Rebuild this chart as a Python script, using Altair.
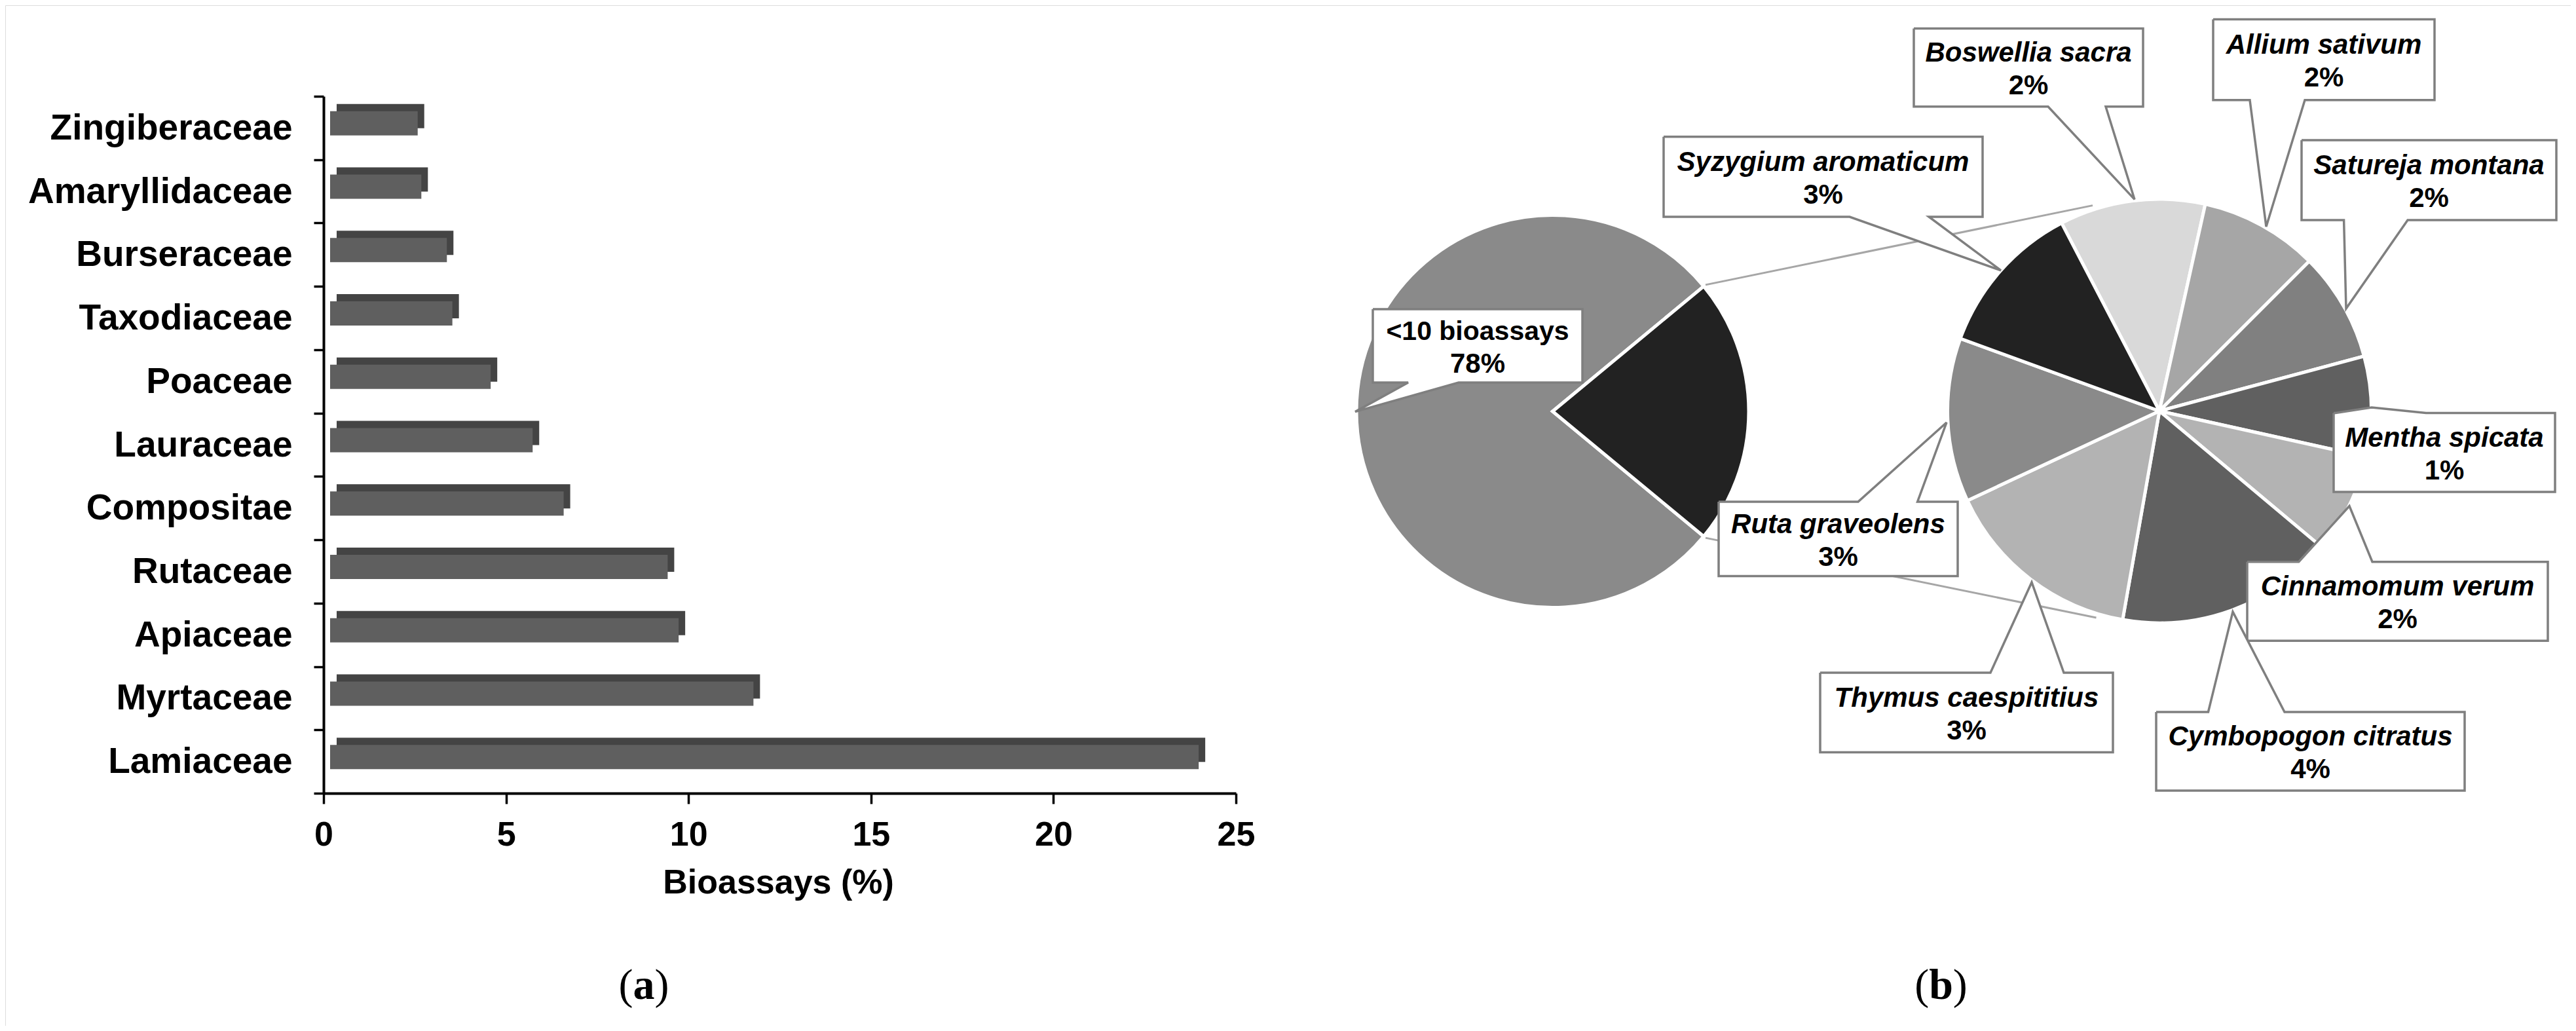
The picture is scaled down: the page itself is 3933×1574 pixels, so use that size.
import math
import altair as alt
import pandas as pd

# ---------------------------------------------------------------- data: panel (a)
families = ["Zingiberaceae", "Amaryllidaceae", "Burseraceae", "Taxodiaceae\u00a0", "Poaceae",
            "Lauraceae", "Compositae", "Rutaceae", "Apiaceae", "Myrtaceae", "Lamiaceae"]
bioassays_pct = [2.4, 2.5, 3.2, 3.35, 4.4, 5.55, 6.4, 9.25, 9.55, 11.6, 23.8]
x_tick_values = [0, 5, 10, 15, 20, 25]
x_title = "Bioassays (%)"

# ---------------------------------------------------------------- data: panel (b)
main_groups = ["<10 bioassays", "\u226510 bioassays"]
main_share = [78, 22]
main_label_pct = ["78%"]
species = ["Boswellia sacra", "Allium sativum", "Satureja montana", "Mentha spicata",
           "Cinnamomum verum", "Cymbopogon citratus", "Thymus caespititius",
           "Ruta graveolens", "Syzygium aromaticum"]
species_bioassays = [16, 13, 12, 11, 11, 24, 22, 18, 17]
species_pct = ["2%", "2%", "2%", "1%", "2%", "4%", "3%", "3%", "3%"]
panel_letters = ["a", "b"]

# ---------------------------------------------------------------- styles
FONT = "Liberation Sans"
SERIF = "Liberation Serif"
main_colors = ["#8a8a8a", "#222222"]
species_colors = ["#d9d9d9", "#a6a6a6", "#808080", "#606060", "#b3b3b3",
                  "#606060", "#b3b3b3", "#8a8a8a", "#222222"]
BAR_FRONT = "#5f5f5f"
BAR_BACK = "#444444"
BOX_STROKE = "#7f7f7f"
LINK_STROKE = "#a6a6a6"

# ---------------------------------------------------------------- layout (page pixels)
W, H = 3917, 1558
M = 8


def px(v):
    return v - M


BAR_X0, BAR_X1 = px(494), px(1887)
BAR_Y0, BAR_Y1 = px(147), px(1211)

PIE1_C, PIE1_R = (px(2370.5), px(628)), 297
PIE2_C, PIE2_R = (px(3297), px(627.5)), 321
pie1_start = math.radians(90) + math.pi * main_share[1] / sum(main_share)
pie2_start = math.radians(-27.5)
LINK_END_ANGLES = [math.radians(-18), math.radians(197)]

CALLOUTS = {
    "<10 bioassays":       dict(box=(2096, 472, 2416, 584), edge="bottom", base=(2150, 2227), tip=(2069, 628.6)),
    "Syzygium aromaticum": dict(box=(2540, 208.7, 3027, 331), edge="bottom", base=(2824, 2945), tip=(3055, 412.8)),
    "Boswellia sacra":     dict(box=(2922, 43.5, 3272, 162.7), edge="bottom", base=(3127, 3215), tip=(3259, 304.4)),
    "Allium sativum":      dict(box=(3379, 29.6, 3717, 152.8), edge="bottom", base=(3435, 3519), tip=(3460, 346)),
    "Satureja montana":    dict(box=(3514, 214, 3903, 336), edge="bottom", base=(3578.6, 3676), tip=(3582, 471)),
    "Mentha spicata":      dict(box=(3563, 630.5, 3901, 751), edge="top", base=(3566, 3704), tip=(3621, 622)),
    "Cinnamomum verum":    dict(box=(3431, 857.7, 3890, 978.3), edge="top", base=(3509.7, 3622), tip=(3587, 772.6)),
    "Cymbopogon citratus": dict(box=(3292, 1087, 3763, 1207), edge="top", base=(3371.5, 3488), tip=(3409, 934)),
    "Thymus caespititius": dict(box=(2779, 1027, 3226, 1148.5), edge="top", base=(3039, 3151), tip=(3102, 889)),
    "Ruta graveolens":     dict(box=(2624, 766, 2989, 879.6), edge="top", base=(2837, 2927.6), tip=(2972, 645)),
}
CAPTIONS = {"a": (983, 1525, 16.5), "b": (2963.5, 1525, 18.3)}

# ---------------------------------------------------------------- panel (a): 3-D look bars
bar_df = pd.DataFrame({"family": families, "pct": bioassays_pct})
ysc = alt.Scale(domain=families, range=[BAR_Y0, BAR_Y1], paddingInner=0, paddingOuter=0)
xsc = alt.Scale(domain=[0, 25], range=[BAR_X0, BAR_X1], nice=False, zero=True)

x_axis = alt.Axis(values=x_tick_values, orient="bottom", offset=BAR_Y1 - H, title=x_title,
                  titleFont=FONT, titleFontSize=52, titleFontWeight="bold", titleColor="black",
                  titleX=px(1188), titleY=152, titleBaseline="alphabetic", titleAlign="center",
                  labelFont=FONT, labelFontSize=52, labelFontWeight="bold", labelColor="black",
                  labelPadding=22, labelFlush=False, format="d",
                  tickSize=16, tickWidth=3.5, tickColor="black",
                  domainColor="black", domainWidth=4, grid=False)
y_axis = alt.Axis(orient="left", offset=-BAR_X0, title=None, tickBand="extent",
                  tickSize=15, tickWidth=3.5, tickColor="black",
                  domainColor="black", domainWidth=4, grid=False,
                  labelFont=FONT, labelFontSize=55, labelFontWeight="bold", labelColor="black",
                  labelPadding=33, labelLimit=900)

enc = dict(x=alt.X("pct:Q", scale=xsc, axis=x_axis),
           y=alt.Y("family:N", sort=families, scale=ysc, axis=y_axis))
bar_back = alt.Chart(bar_df).mark_bar(size=37, color=BAR_BACK, orient="horizontal",
                                      xOffset=20, x2Offset=20, yOffset=-18).encode(**enc)
bar_front = alt.Chart(bar_df).mark_bar(size=37, color=BAR_FRONT, orient="horizontal",
                                       xOffset=10, x2Offset=10, yOffset=-7).encode(**enc)
bar_layer = alt.layer(bar_back, bar_front)

# ---------------------------------------------------------------- panel (b): pie of pie
xs = alt.Scale(domain=[0, W], range=[0, W], nice=False, zero=False)
ys = alt.Scale(domain=[0, H], range=[0, H], nice=False, zero=False)
color_scale = alt.Scale(domain=main_groups + species, range=main_colors + species_colors)


def pie(names, values, centre, radius, start):
    df = pd.DataFrame({"name": names, "value": values, "order": list(range(len(names))),
                       "cx": centre[0], "cy": centre[1]})
    return alt.Chart(df).mark_arc(radius=radius + 2.5, stroke="white", strokeWidth=5,
                                  strokeJoin="miter").encode(
        x=alt.X("cx:Q", scale=xs, axis=None),
        y=alt.Y("cy:Q", scale=ys, axis=None),
        theta=alt.Theta("value:Q", stack=True,
                        scale=alt.Scale(range=[start, start + 2 * math.pi])),
        order=alt.Order("order:Q"),
        color=alt.Color("name:N", scale=color_scale, legend=None),
    )


pie1 = pie(main_groups, main_share, PIE1_C, PIE1_R, pie1_start)
pie2 = pie(species, species_bioassays, PIE2_C, PIE2_R, pie2_start)

# connector lines from the split-off wedge of pie 1 to pie 2
total = sum(main_share)
wedge_edges = [pie1_start + 2 * math.pi * main_share[0] / total, pie1_start + 2 * math.pi]
link_rows = []
for a_left, a_right in zip(wedge_edges, LINK_END_ANGLES):
    link_rows.append({
        "x": PIE1_C[0] + (PIE1_R + 6) * math.sin(a_left),
        "y": PIE1_C[1] - (PIE1_R + 6) * math.cos(a_left),
        "x2": PIE2_C[0] + (PIE2_R + 9) * math.sin(a_right),
        "y2": PIE2_C[1] - (PIE2_R + 9) * math.cos(a_right),
    })
links = alt.Chart(pd.DataFrame(link_rows)).mark_rule(color=LINK_STROKE, strokeWidth=3).encode(
    x=alt.X("x:Q", scale=xs, axis=None), y=alt.Y("y:Q", scale=ys, axis=None),
    x2="x2:Q", y2="y2:Q")

# callout outlines (box + pointer)
poly_rows = []
name_rows, plain_rows, pct_rows = [], [], []
label_pcts = dict(zip(species, species_pct))
label_pcts["<10 bioassays"] = main_label_pct[0]
for key, c in CALLOUTS.items():
    x0, y0, x1, y1 = c["box"]
    b0, b1 = c["base"]
    tx, ty = c["tip"]
    if c["edge"] == "bottom":
        pts = [(x0, y0), (x1, y0), (x1, y1), (b1, y1), (tx, ty), (b0, y1), (x0, y1), (x0, y0)]
    else:
        pts = [(x0, y0), (b0, y0), (tx, ty), (b1, y0), (x1, y0), (x1, y1), (x0, y1), (x0, y0)]
    for i, (ptx, pty) in enumerate(pts):
        poly_rows.append({"key": key, "i": i, "x": px(ptx), "y": px(pty)})
    cxm, cym = px((x0 + x1) / 2), px((y0 + y1) / 2)
    row = {"text": key, "x": cxm, "y": cym - 9}
    (name_rows if key in species else plain_rows).append(row)
    pct_rows.append({"text": label_pcts[key], "x": cxm, "y": cym + 41})

callouts = alt.Chart(pd.DataFrame(poly_rows)).mark_line(
    fill="white", stroke=BOX_STROKE, strokeWidth=3.5, strokeJoin="miter").encode(
    x=alt.X("x:Q", scale=xs, axis=None), y=alt.Y("y:Q", scale=ys, axis=None),
    order=alt.Order("i:Q"), detail="key:N")


def text_layer(rows, **kw):
    return alt.Chart(pd.DataFrame(rows)).mark_text(
        font=FONT, fontWeight="bold", color="black", align="center",
        baseline="alphabetic", **kw).encode(
        x=alt.X("x:Q", scale=xs, axis=None), y=alt.Y("y:Q", scale=ys, axis=None),
        text="text:N")


names_txt = text_layer(name_rows, fontSize=42, fontStyle="italic")
plain_txt = text_layer(plain_rows, fontSize=41)
pct_txt = text_layer(pct_rows, fontSize=42)

# captions (a) / (b)
letter_rows = [{"text": l, "x": px(CAPTIONS[l][0]), "y": px(CAPTIONS[l][1])} for l in panel_letters]
open_rows = [{"text": "(", "x": px(CAPTIONS[l][0] - CAPTIONS[l][2]), "y": px(CAPTIONS[l][1])} for l in panel_letters]
close_rows = [{"text": ")", "x": px(CAPTIONS[l][0] + CAPTIONS[l][2]), "y": px(CAPTIONS[l][1])} for l in panel_letters]


def cap_layer(rows, align, weight):
    return alt.Chart(pd.DataFrame(rows)).mark_text(
        font=SERIF, fontSize=66, fontWeight=weight, color="black", align=align,
        baseline="alphabetic").encode(
        x=alt.X("x:Q", scale=xs, axis=None), y=alt.Y("y:Q", scale=ys, axis=None),
        text="text:N")


captions = [cap_layer(letter_rows, "center", "bold"),
            cap_layer(open_rows, "right", "normal"),
            cap_layer(close_rows, "left", "normal")]

pie_layer = alt.layer(links, pie1, pie2, callouts, names_txt, plain_txt, pct_txt,
                      *captions).resolve_scale(theta="independent")

chart = (
    alt.layer(bar_layer, pie_layer)
    .resolve_scale(x="independent", y="independent")
    .properties(width=W, height=H, autosize=alt.AutoSizeParams(type="none"), padding=0)
    .configure_view(strokeWidth=0, stroke="transparent")
    .configure(background="white")
)

chart.save("out.html", embed_options={"renderer": "svg", "actions": False})
